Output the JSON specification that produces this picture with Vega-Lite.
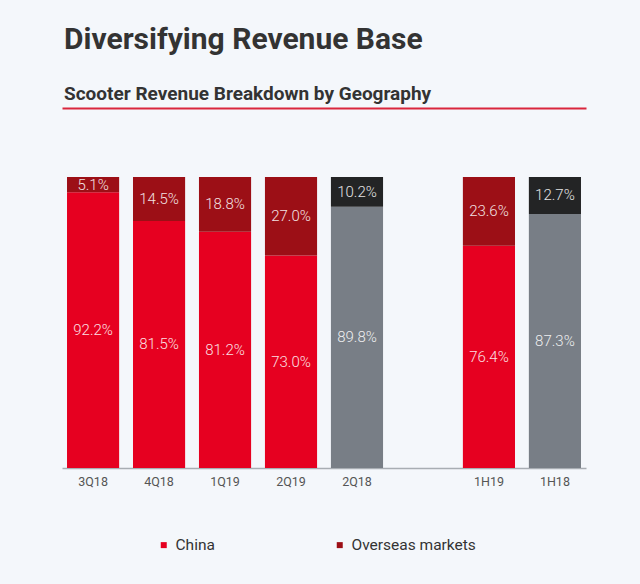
{
  "$schema": "https://vega.github.io/schema/vega-lite/v6.json",
  "background": "#f4f7fb",
  "padding": {"left": 62, "top": 25, "right": 54, "bottom": 40},
  "width": 524,
  "height": 291,
  "title": {
    "text": "Diversifying Revenue Base",
    "subtitle": "Scooter Revenue Breakdown by Geography",
    "anchor": "start",
    "frame": "group",
    "dx": 2,
    "font": "Roboto",
    "fontSize": 30,
    "fontWeight": "bold",
    "color": "#333333",
    "subtitleFont": "Roboto",
    "subtitleFontSize": 19,
    "subtitleFontWeight": "bold",
    "subtitleColor": "#333333",
    "subtitlePadding": 30,
    "offset": 4
  },
  "config": {"view": {"stroke": null}},
  "data": {
    "values": [
      {"period": "3Q18", "region": "China", "order": 0, "value": 92.2, "label": "92.2%"},
      {"period": "3Q18", "region": "Overseas markets", "order": 1, "value": 5.1, "label": "5.1%"},
      {"period": "4Q18", "region": "China", "order": 0, "value": 81.5, "label": "81.5%"},
      {"period": "4Q18", "region": "Overseas markets", "order": 1, "value": 14.5, "label": "14.5%"},
      {"period": "1Q19", "region": "China", "order": 0, "value": 81.2, "label": "81.2%"},
      {"period": "1Q19", "region": "Overseas markets", "order": 1, "value": 18.8, "label": "18.8%"},
      {"period": "2Q19", "region": "China", "order": 0, "value": 73.0, "label": "73.0%"},
      {"period": "2Q19", "region": "Overseas markets", "order": 1, "value": 27.0, "label": "27.0%"},
      {"period": "2Q18", "region": "China (prior year)", "order": 0, "value": 89.8, "label": "89.8%"},
      {"period": "2Q18", "region": "Overseas (prior year)", "order": 1, "value": 10.2, "label": "10.2%"},
      {"period": "1H19", "region": "China", "order": 0, "value": 76.4, "label": "76.4%"},
      {"period": "1H19", "region": "Overseas markets", "order": 1, "value": 23.6, "label": "23.6%"},
      {"period": "1H18", "region": "China (prior year)", "order": 0, "value": 87.3, "label": "87.3%"},
      {"period": "1H18", "region": "Overseas (prior year)", "order": 1, "value": 12.7, "label": "12.7%"}
    ]
  },
  "transform": [
    {"stack": "value", "groupby": ["period"], "sort": [{"field": "order"}], "offset": "normalize", "as": ["y0", "y1"]},
    {"calculate": "(datum.y0 + datum.y1) / 2", "as": "ymid"}
  ],
  "layer": [
    {
      "mark": {"type": "bar"},
      "encoding": {
        "x": {
          "field": "period",
          "type": "nominal",
          "sort": null,
          "scale": {"domain": ["3Q18", "4Q18", "1Q19", "2Q19", "2Q18", " ", "1H19", "1H18"], "paddingInner": 0.21, "paddingOuter": 0.076},
          "axis": {
            "title": null,
            "orient": "bottom",
            "labelAngle": 0,
            "ticks": false,
            "domainColor": "#a8adb3",
            "domainWidth": 1.5,
            "labelColor": "#555555",
            "labelFont": "Roboto",
            "labelFontSize": 12.5,
            "labelPadding": 7
          }
        },
        "y": {"field": "y0", "type": "quantitative", "scale": {"domain": [0, 1]}, "axis": null},
        "y2": {"field": "y1"},
        "color": {
          "field": "region",
          "type": "nominal",
          "scale": {
            "domain": ["China", "Overseas markets", "China (prior year)", "Overseas (prior year)"],
            "range": ["#e60020", "#9c0f16", "#787e86", "#232425"]
          },
          "legend": {
            "values": ["China", "Overseas markets"],
            "title": null,
            "orient": "none",
            "direction": "horizontal",
            "legendX": 94,
            "legendY": 360,
            "symbolType": "square",
            "symbolSize": 36,
            "symbolStrokeWidth": 0,
            "labelFont": "Roboto",
            "labelFontSize": 15.5,
            "labelColor": "#333333",
            "labelOffset": 4,
            "columnPadding": 117
          }
        }
      }
    },
    {
      "mark": {"type": "text", "font": "Roboto", "fontSize": 15, "fontWeight": 300, "color": "#ffffff", "opacity": 0.88},
      "encoding": {
        "x": {
          "field": "period",
          "type": "nominal",
          "sort": null,
          "axis": {
            "orient": "top",
            "offset": 69,
            "title": null,
            "labels": false,
            "ticks": false,
            "domainColor": "#d9263d",
            "domainWidth": 2
          }
        },
        "y": {"field": "ymid", "type": "quantitative"},
        "text": {"field": "label"}
      }
    }
  ],
  "resolve": {"axis": {"x": "independent"}}
}
